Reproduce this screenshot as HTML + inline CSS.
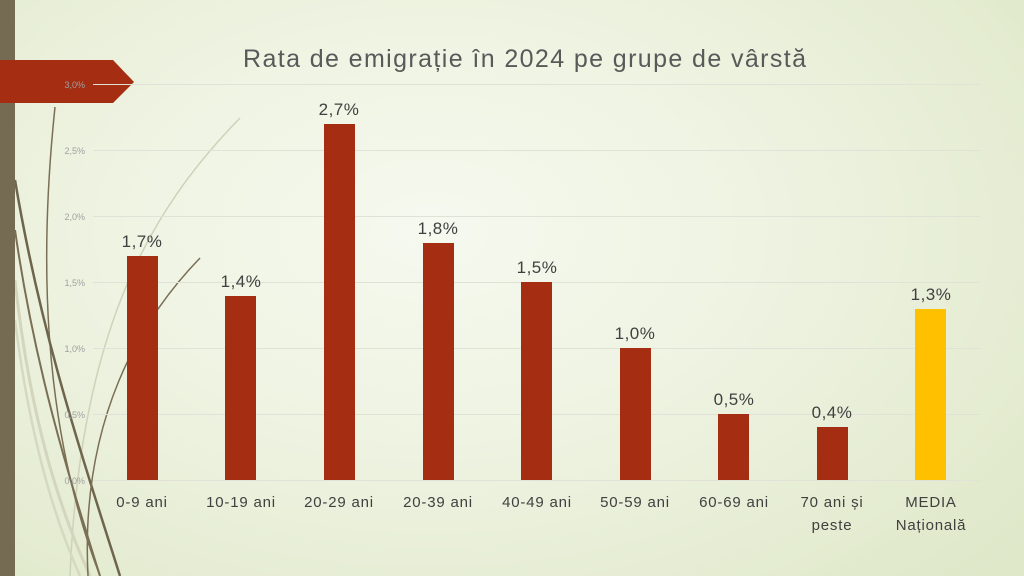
<!DOCTYPE html>
<html><head><meta charset="utf-8"><style>
html,body{margin:0;padding:0}
body{width:1024px;height:576px;overflow:hidden;position:relative;font-family:"Liberation Sans",sans-serif;
background:radial-gradient(ellipse 75% 85% at 42% 40%,#f6f9ef 0%,#eef3e1 45%,#dfe8c9 100%);}
svg{position:absolute;left:0;top:0}
</style></head><body>
<svg width="1024" height="576" viewBox="0 0 1024 576">
<g fill="none">
<path d="M240 118 C150 210 80 330 70 576" stroke="#cfd2b8" stroke-width="1.5"/>
<path d="M55 107 C40 250 40 420 100 576" stroke="#7a6e55" stroke-width="1.5"/>
<path d="M15 180 C40 330 80 450 120 576" stroke="#6e654c" stroke-width="2.5"/>
<path d="M15 230 C35 370 70 480 100 576" stroke="#7a6e55" stroke-width="2"/>
<path d="M15 280 C30 420 60 510 90 576" stroke="#d3d6bc" stroke-width="3"/>
<path d="M15 320 C30 440 55 520 80 576" stroke="#d6d9c2" stroke-width="2.5"/>
<path d="M200 258 C140 320 80 420 88 576" stroke="#7a6e55" stroke-width="1.5"/>
</g>
<rect x="0" y="0" width="15" height="576" fill="#746b52"/>
<polygon points="0,60 113,60 134,82 113,103 0,103" fill="#a52e12"/>
<g stroke="#e0e2d8" stroke-width="1">
<line x1="93" y1="84.5" x2="980" y2="84.5"/>
<line x1="93" y1="150.5" x2="980" y2="150.5"/>
<line x1="93" y1="216.5" x2="980" y2="216.5"/>
<line x1="93" y1="282.5" x2="980" y2="282.5"/>
<line x1="93" y1="348.5" x2="980" y2="348.5"/>
<line x1="93" y1="414.5" x2="980" y2="414.5"/>
<line x1="93" y1="480.5" x2="980" y2="480.5"/>
</g>
<g font-size="9" fill="#a0a0a0" text-anchor="end">
<text x="85" y="88">3,0%</text><text x="85" y="154">2,5%</text><text x="85" y="220">2,0%</text>
<text x="85" y="286">1,5%</text><text x="85" y="352">1,0%</text><text x="85" y="418">0,5%</text><text x="85" y="484">0,0%</text>
</g>
<text x="243" y="67" font-size="25" fill="#595959" textLength="563" lengthAdjust="spacing">Rata de emigrație în 2024 pe grupe de vârstă</text>
<g fill="#a52e12">
<rect x="127" y="256" width="31" height="224"/>
<rect x="225" y="296" width="31" height="184"/>
<rect x="324" y="124" width="31" height="356"/>
<rect x="423" y="243" width="31" height="237"/>
<rect x="521" y="282" width="31" height="198"/>
<rect x="620" y="348" width="31" height="132"/>
<rect x="718" y="414" width="31" height="66"/>
<rect x="817" y="427" width="31" height="53"/>
<rect x="915" y="309" width="31" height="171" fill="#ffc000"/>
</g>
<g font-size="17" fill="#404040" text-anchor="middle" letter-spacing="0.5">
<text x="142" y="247">1,7%</text><text x="241" y="287">1,4%</text><text x="339" y="115">2,7%</text>
<text x="438" y="234">1,8%</text><text x="537" y="273">1,5%</text><text x="635" y="339">1,0%</text>
<text x="734" y="405">0,5%</text><text x="832" y="418">0,4%</text><text x="931" y="300">1,3%</text>
</g>
<g font-size="15" fill="#404040" text-anchor="middle" letter-spacing="0.8">
<text x="142" y="507">0-9 ani</text><text x="241" y="507">10-19 ani</text><text x="339" y="507">20-29 ani</text>
<text x="438" y="507">20-39 ani</text><text x="537" y="507">40-49 ani</text><text x="635" y="507">50-59 ani</text>
<text x="734" y="507">60-69 ani</text><text x="832" y="507">70 ani și</text><text x="832" y="530">peste</text>
<text x="931" y="507">MEDIA</text><text x="931" y="530">Națională</text>
</g>
</svg>
</body></html>
